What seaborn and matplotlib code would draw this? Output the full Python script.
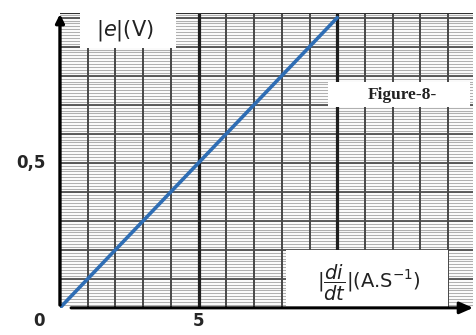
import seaborn as sns
import matplotlib.pyplot as plt
import numpy as np
import pandas as pd
from matplotlib.patches import Rectangle

sns.set_style("white")

# data: |e| versus |di/dt|
didt = [0, 10]
e_volts = [0, 1.0]
tick_labels = {"y": "0,5", "x0": "0", "x5": "5"}

df = pd.DataFrame({"didt": didt, "e": e_volts})

fig = plt.figure(figsize=(4.76, 3.35), dpi=100)
ax = fig.add_axes([0.126, 0.081, 0.868, 0.881])
xmax, ymax = 14.9, 1.017
ax.set_xlim(0, xmax)
ax.set_ylim(0, ymax)

# graph paper
for yy in np.arange(0.01, ymax, 0.01):
    ax.axhline(yy, color="#b0b0b0", lw=0.8, zorder=1)
for yy in np.arange(0.1, ymax, 0.1):
    ax.axhline(yy, color="#505050", lw=1.3, zorder=2)
for xx in np.arange(1, xmax, 1):
    bold = (round(xx) % 5 == 0)
    ax.axvline(xx, color="#1e1e1e" if bold else "#484848",
               lw=2.3 if bold else 1.4, zorder=2)
ax.axhline(ymax, color="#303030", lw=1.5, zorder=2)

sns.lineplot(data=df, x="didt", y="e", color="#2e6db4", linewidth=2.6, ax=ax, zorder=5)

# white label boxes
ax.add_patch(Rectangle((0.72, 0.895), 3.45, 0.2, facecolor="white", edgecolor="none", zorder=6, clip_on=False))
ax.text(2.35, 0.955, r"|$e$|(V)", fontsize=15, ha="center", va="center", zorder=7, color="#222222")

ax.add_patch(Rectangle((9.68, 0.693), 5.1, 0.087, facecolor="white", edgecolor="none", zorder=6))
ax.text(12.35, 0.735, "Figure-8-", fontsize=12.5, fontweight="bold", family="Liberation Serif",
        ha="center", va="center", zorder=7, color="#222222")

ax.add_patch(Rectangle((8.16, 0.0), 5.85, 0.2, facecolor="white", edgecolor="none", zorder=6))
ax.text(11.15, 0.085, r"|$\dfrac{di}{dt}$|(A.S$^{-1}$)", fontsize=14, ha="center", va="center",
        zorder=7, color="#222222")

# axes with arrows
ax.annotate("", xy=(xmax + 0.1, 0), xytext=(0.3, 0),
            arrowprops=dict(arrowstyle="-|>,head_length=0.8,head_width=0.35", color="black", lw=2.2),
            zorder=8, annotation_clip=False)
ax.annotate("", xy=(0, ymax + 0.005), xytext=(0, 0),
            arrowprops=dict(arrowstyle="-|>,head_length=0.5,head_width=0.25", color="black", lw=2.4),
            zorder=8, annotation_clip=False)

for s in ax.spines.values():
    s.set_visible(False)
ax.set_xticks([])
ax.set_yticks([])
ax.set_xlabel("")
ax.set_ylabel("")

ax.text(-0.5, 0.5, tick_labels["y"], fontsize=12, fontweight="bold", ha="right", va="center")
ax.text(-0.75, -0.045, tick_labels["x0"], fontsize=12, fontweight="bold", ha="center", va="center")
ax.text(5, -0.045, tick_labels["x5"], fontsize=12, fontweight="bold", ha="center", va="center")

fig.savefig("out.png", dpi=100)
plt.close()
